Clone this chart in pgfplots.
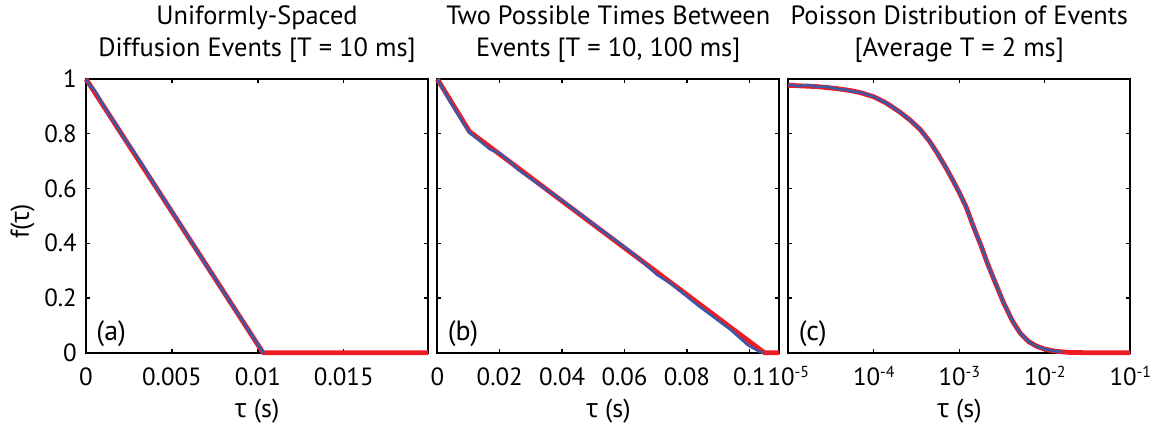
\documentclass[border=0pt]{standalone}
\usepackage{pgfplots}
\pgfplotsset{compat=1.18}
\usepackage{fontspec}
\setmainfont{PT Sans}
\newfontfamily\gr{Open Sans}
\definecolor{dblue}{RGB}{62,88,168}
\definecolor{dred}{RGB}{236,28,36}
\newcommand\ex[1]{10\raisebox{7.5bp}{\fontsize{16}{16}\selectfont #1}}
\pgfplotsset{panel/.style={
  scale only axis, width=342bp, height=273.7bp, anchor=south west,
  ymin=0, ymax=1, ytick={0,0.2,0.4,0.6,0.8,1},
  clip=false,
  axis line style={line width=1.8bp},
  every tick/.style={black, line width=1.3bp},
  major tick length=4bp,
  tick align=inside,
  scaled x ticks=false, scaled y ticks=false,
  /pgf/number format/assume math mode=true,
  ticklabel style={font=\fontsize{25}{29}\selectfont},
  xticklabel style={anchor=base, inner sep=0pt, yshift=-32.3bp},
  yticklabel style={anchor=east, inner sep=0pt, xshift=-9bp},
  title style={align=center, font=\fontsize{26.5}{31.6}\selectfont, anchor=south, inner sep=0pt, at={(rel axis cs:0.5,1)}, yshift=10.5bp},
  label style={font=\fontsize{26}{30}\selectfont},
  xlabel={{\gr τ} (s)},
  xlabel style={at={(rel axis cs:0.5,0)}, anchor=base, inner sep=0pt, yshift=-64.3bp},
  red/.style={dred, line width=4.8bp, line join=round},
  blu/.style={dblue, line width=2.6bp, line join=round},
}}
\begin{document}
\begin{tikzpicture}
\path[use as bounding box] (0bp,0bp) rectangle (1151bp,-423bp);
% (a)
\begin{axis}[panel, at={(86bp,-352.7bp)},
  xmin=0, xmax=0.0199,
  xtick={0,0.005,0.01,0.015}, xticklabels={0,0.005,0.01,0.015},
  yticklabels={0,0.2,0.4,0.6,0.8,1},
  ylabel={f({\gr τ})},
  ylabel style={at={(rel axis cs:-0.186,0.48)}, anchor=center},
  title={Uniformly-Spaced\\Diffusion Events [T = 10 ms]}]
\addplot[red] coordinates {(0,1) (0.0103,0) (0.0199,0)};
\addplot[blu] coordinates {
(0,1.0) (0.0002,0.975) (0.0004,0.968) (0.0006,0.950) (0.0010,0.905)
(0.0014,0.866) (0.0018,0.828) (0.0022,0.786) (0.0026,0.752) (0.0030,0.713)
(0.0034,0.676) (0.0040,0.612) (0.0046,0.555) (0.0052,0.497) (0.0058,0.439)
(0.0064,0.378) (0.0070,0.320) (0.0076,0.262) (0.0082,0.203) (0.0088,0.146)
(0.0094,0.088) (0.0100,0.030) (0.0103,0.002) (0.0104,0.0)};
\node[anchor=base west, inner sep=0pt, font=\fontsize{28}{32}\selectfont] at (rel axis cs:0.03,0.046) {(a)};
\end{axis}
% (b)
\begin{axis}[panel, at={(437.3bp,-352.7bp)},
  xmin=0, xmax=0.1096,
  xtick={0,0.02,0.04,0.06,0.08,0.1}, xticklabels={0,0.02,0.04,0.06,0.08,0.1},
  yticklabels={},
  title={Two Possible Times Between\\Events [T = 10, 100 ms]}]
\addplot[red] coordinates {(0,1) (0.0103,0.808) (0.1048,0) (0.1096,0)};
\addplot[blu] coordinates {
(0,1) (0.00407,0.917) (0.00836,0.838) (0.0103,0.804) (0.01265,0.783)
(0.01586,0.753) (0.0169,0.743) (0.0201,0.728) (0.0244,0.686) (0.0255,0.672)
(0.0298,0.637) (0.0405,0.552) (0.0512,0.460) (0.0620,0.369) (0.0705,0.284)
(0.0748,0.253) (0.0834,0.174) (0.0941,0.083) (0.0995,0.028) (0.1032,0.004) (0.1048,0)};
\node[anchor=base west, inner sep=0pt, font=\fontsize{28}{32}\selectfont] at (rel axis cs:0.03,0.046) {(b)};
\end{axis}
% (c)
\begin{axis}[panel, at={(788.3bp,-352.7bp)},
  xmode=log, xmin=1e-5, xmax=0.1, xminorticks=false,
  xtick={1e-5,1e-4,1e-3,1e-2,1e-1},
  xticklabels={\ex{-5},\ex{-4},\ex{-3},\ex{-2},\ex{-1}},
  yticklabels={},
  title={Poisson Distribution of Events\\{}[Average T = 2 ms]}]
\addplot[red] coordinates {
(1e-5,0.977) (2.2e-5,0.972) (3.7e-5,0.965) (5.5e-5,0.957) (7e-5,0.950)
(1e-4,0.935) (1.4e-4,0.912) (2e-4,0.880) (2.7e-4,0.848) (3.5e-4,0.815)
(4.5e-4,0.772) (5.5e-4,0.730) (7e-4,0.675) (8.5e-4,0.627) (1e-3,0.585)
(1.2e-3,0.533) (1.5e-3,0.452) (1.8e-3,0.390) (2.1e-3,0.332) (2.6e-3,0.260)
(3.3e-3,0.182) (4.2e-3,0.115) (5.2e-3,0.070) (6.5e-3,0.040) (8e-3,0.024)
(1e-2,0.013) (1.3e-2,0.006) (1.6e-2,0.003) (2e-2,0.001) (3e-2,0) (0.1,0)};
\addplot[blu] coordinates {
(1e-5,0.979) (1.3e-5,0.974) (1.7e-5,0.978) (2.2e-5,0.971) (2.8e-5,0.972)
(3.7e-5,0.964) (4.5e-5,0.962) (5.5e-5,0.955) (7e-5,0.951)
(1e-4,0.935) (1.4e-4,0.912) (2e-4,0.880) (2.7e-4,0.848) (3.5e-4,0.815)
(4.5e-4,0.772) (5.5e-4,0.730) (7e-4,0.675) (8.5e-4,0.627) (1e-3,0.585)
(1.2e-3,0.533) (1.5e-3,0.452) (1.8e-3,0.390) (2.1e-3,0.332) (2.6e-3,0.260)
(3.3e-3,0.182) (4.2e-3,0.115) (5.2e-3,0.070) (6.5e-3,0.040) (8e-3,0.024)
(1e-2,0.013) (1.3e-2,0.006) (1.6e-2,0.003)};
\node[anchor=base west, inner sep=0pt, font=\fontsize{28}{32}\selectfont] at (rel axis cs:0.03,0.046) {(c)};
\end{axis}
\end{tikzpicture}
\end{document}
